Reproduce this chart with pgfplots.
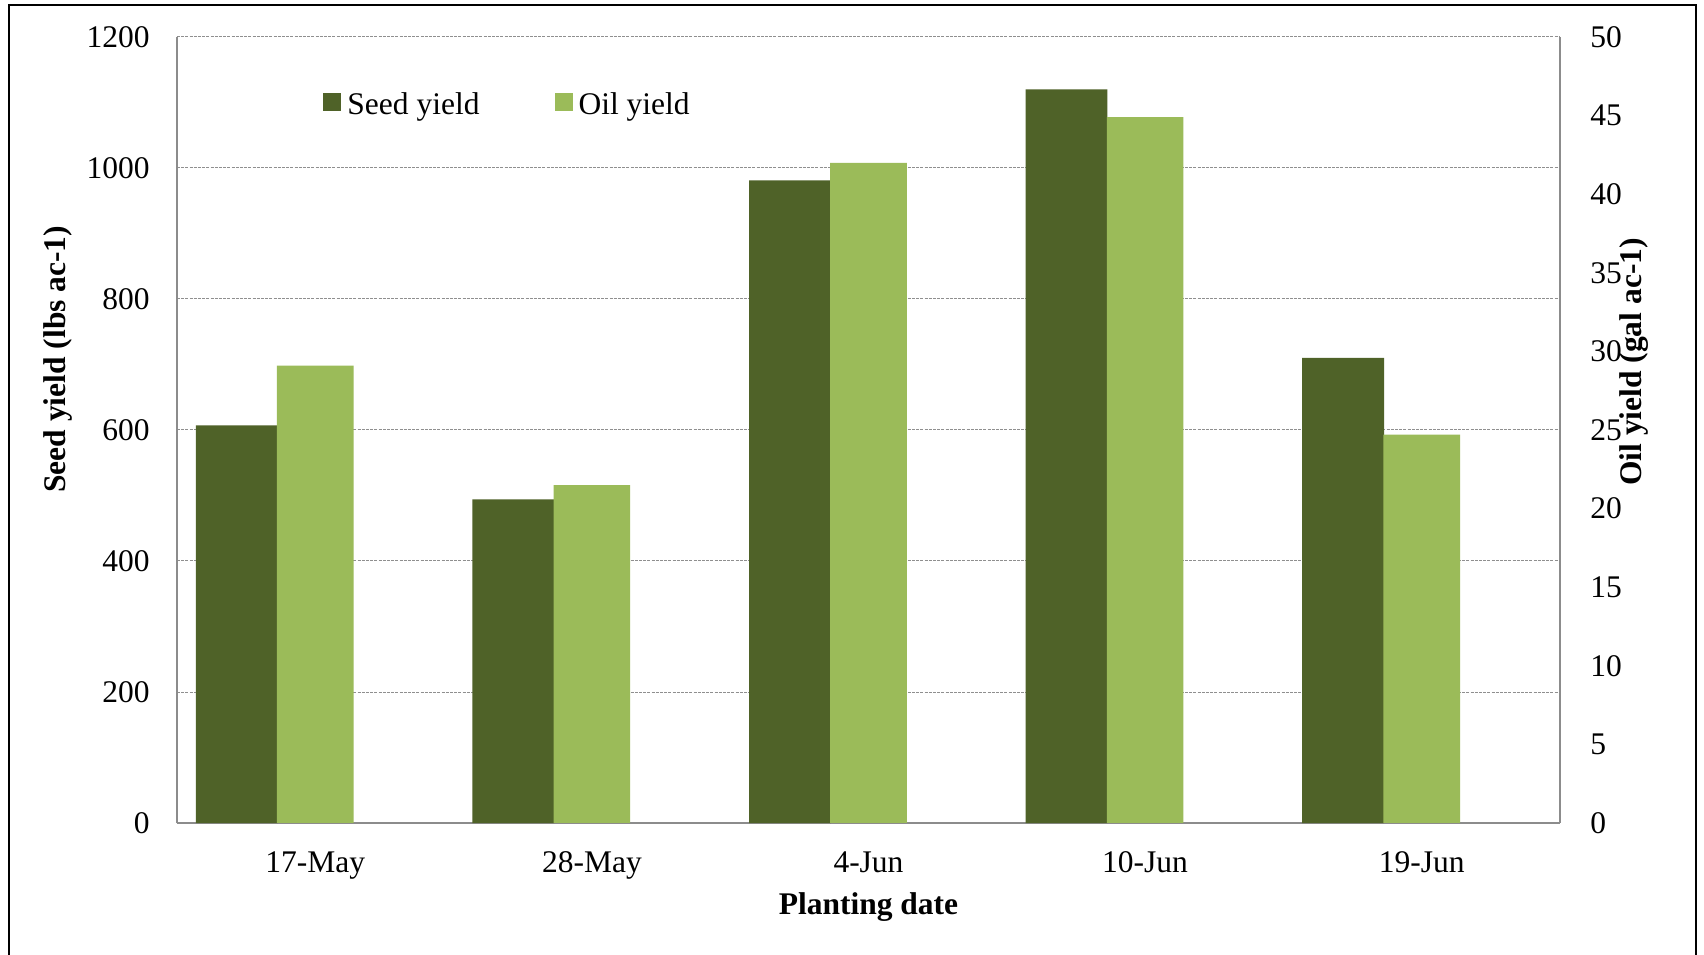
\documentclass[border=0pt]{standalone}
\usepackage{fontspec}
\setmainfont{Liberation Serif}
\usepackage{pgfplots}
\usepackage{pgfplotstable}
\pgfplotsset{compat=1.18}

\definecolor{seedgreen}{HTML}{4F6228}
\definecolor{oilgreen}{HTML}{9BBB59}
\definecolor{axisgray}{HTML}{8C8C8C}
\definecolor{gridgray}{HTML}{8F8F8F}

% Seed yield (lbs/ac) and oil yield (gal/ac) by planting date
\pgfplotstableread{
x seed oil
0 607 29.1
1 494 21.5
2 981 42.0
3 1120 44.9
4 710 24.7
}\yields

\pgfplotsset{
  yieldaxis/.style={
    scale only axis, width=691.5pt, height=393pt,
    at={(88.5pt,65.5pt)}, anchor=south west,
    xmin=-0.5, xmax=4.5, ymin=0,
    major tick length=0pt,
    /pgf/number format/assume math mode=true,
    /pgf/number format/1000 sep={},
    axis line style={axisgray, line width=0.8pt, -},
  },
}

\begin{document}
\begin{tikzpicture}[font=\fontsize{15.75}{18}\selectfont]
\useasboundingbox (0,0) rectangle (852pt,477pt);
\fill[white] (0,0) rectangle (852pt,477pt);
\draw[line width=1.3pt] (4.5pt,-2pt) -- (4.5pt,474.5pt) -- (848pt,474.5pt) -- (848pt,-2pt);

% primary axis: seed yield
\begin{axis}[yieldaxis,
  ymax=1200, ytick={0,200,...,1200},
  axis x line*=bottom, axis y line*=left,
  xtick={0,1,2,3,4},
  xticklabels={17-May,28-May,4-Jun,10-Jun,19-Jun},
  xticklabel style={anchor=north, inner sep=0pt, yshift=-13.5pt, text height=11pt, text depth=3.5pt},
  yticklabel style={anchor=east, inner sep=0pt, xshift=-13.5pt},
  ymajorgrids,
  grid style={gridgray, line width=0.5pt, dash pattern=on 1.5pt off 0.6pt},
  xlabel={\textbf{Planting date}},
  xlabel style={at={(axis description cs:0.5,-0.117)}, anchor=base},
  ylabel={\textbf{Seed yield (lbs ac-1)}},
  ylabel style={at={(axis description cs:-0.0803,0.59)}, anchor=base},
]
\addplot[ybar, fill=seedgreen, draw=none, bar width=0.296, bar shift=-0.284]
  table[x=x, y=seed] {\yields};
\end{axis}

% secondary axis: oil yield
\begin{axis}[yieldaxis,
  ymax=50, ytick={0,5,...,50},
  axis y line*=right, axis x line=none,
  xtick=\empty,
  yticklabel style={anchor=west, inner sep=0pt, xshift=15pt},
  ylabel={\textbf{Oil yield (gal ac-1)}},
  ylabel style={at={(axis description cs:1.0586,0.5865)}, anchor=base},
  legend columns=2,
  legend style={at={(axis description cs:0.1056,0.914)}, anchor=west,
    draw=none, fill=none, inner sep=0pt, nodes={inner sep=0pt},
    /tikz/every odd column/.append style={column sep=3pt},
    /tikz/every even column/.append style={column sep=37.5pt}},
  legend image code/.code={\fill[#1] (0pt,-3.2pt) rectangle (9pt,5.8pt);},
]
\addlegendimage{fill=seedgreen, draw=none}
\addlegendentry{Seed yield}
\addplot[ybar, fill=oilgreen, draw=none, bar width=0.277, bar shift=0]
  table[x=x, y=oil] {\yields};
\addlegendentry{Oil yield}
\end{axis}
\end{tikzpicture}
\end{document}
